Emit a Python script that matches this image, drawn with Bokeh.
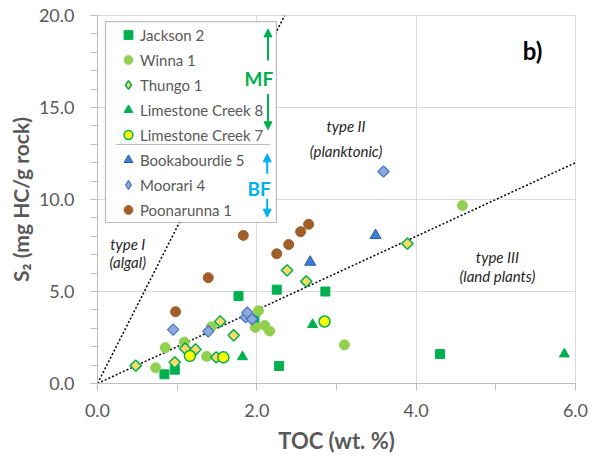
from bokeh.plotting import figure
from bokeh.models import (Range1d, SingleIntervalTicker, PrintfTickFormatter, Legend, LegendItem,
                          BoxAnnotation, Arrow, NormalHead, Label, Title)
from bokeh.embed import file_html
from bokeh.resources import INLINE

# ---------------- data ----------------
jackson_x = [0.84, 0.97, 1.77, 1.97, 2.25, 2.28, 2.86, 4.30]
jackson_y = [0.50, 0.75, 4.75, 3.50, 5.10, 0.95, 5.00, 1.60]

winna_x = [0.73, 0.85, 1.09, 1.37, 1.43, 1.98, 2.02, 2.10, 2.16, 3.10, 4.58]
winna_y = [0.85, 1.95, 2.25, 1.47, 3.08, 3.05, 3.95, 3.15, 2.85, 2.10, 9.67]

thungo_x = [0.48, 0.97, 1.10, 1.23, 1.49, 1.54, 1.71, 2.38, 2.62, 3.89]
thungo_y = [0.97, 1.15, 1.90, 1.85, 1.42, 3.37, 2.62, 6.15, 5.55, 7.60]

lc8_x = [1.82, 2.70, 5.86]
lc8_y = [1.45, 3.20, 1.60]

lc7_x = [1.16, 1.58, 2.85]
lc7_y = [1.50, 1.42, 3.37]

book_x = [2.67, 3.49]
book_y = [6.60, 8.05]

moorari_x = [0.95, 1.39, 1.86, 1.88, 1.94, 3.59]
moorari_y = [2.93, 2.83, 3.60, 3.85, 3.50, 11.52]

poon_x = [0.98, 1.39, 1.83, 2.25, 2.40, 2.55, 2.65]
poon_y = [3.90, 5.75, 8.05, 7.05, 7.55, 8.25, 8.65]

# kerogen type boundary lines (HI ~ 850 and 200)
type1_x = [0.0, 2.35]
type1_y = [0.0, 20.0]
type3_x = [0.0, 6.0]
type3_y = [0.0, 12.0]

x_ticks_interval = 2
y_ticks_interval = 5

FONT = "Lato"
GRAY = "#595959"

p = figure(frame_width=478, frame_height=368,
           x_range=Range1d(0, 6), y_range=Range1d(0, 20),
           output_backend="svg", toolbar_location=None,
           min_border_left=97, min_border_right=19, min_border_top=15, min_border_bottom=80)
p.background_fill_color = "white"
p.border_fill_color = "white"
p.outline_line_color = "#d9d9d9"

# axes
p.xaxis.ticker = SingleIntervalTicker(interval=x_ticks_interval, num_minor_ticks=2)
p.yaxis.ticker = SingleIntervalTicker(interval=y_ticks_interval, num_minor_ticks=5)
for ax in (p.xaxis[0], p.yaxis[0]):
    ax.formatter = PrintfTickFormatter(format="%.1f")
    ax.axis_line_color = "#bfbfbf"
    ax.major_tick_line_color = "#bfbfbf"
    ax.minor_tick_line_color = "#bfbfbf"
    ax.major_tick_in = 0
    ax.minor_tick_in = 0
    ax.major_tick_out = 7
    ax.minor_tick_out = 7
    ax.major_label_text_font = FONT
    ax.major_label_text_font_size = "18px"
    ax.major_label_text_color = GRAY
p.xaxis.major_label_standoff = 13
p.yaxis.major_label_standoff = 16
p.xaxis.axis_label = "TOC (wt. %)"
p.xaxis.axis_label_text_font = FONT
p.xaxis.axis_label_text_font_size = "22px"
p.xaxis.axis_label_text_font_style = "bold"
p.xaxis.axis_label_text_color = GRAY
p.xaxis.axis_label_standoff = 7

ytitle = Title(text="S\u2082 (mg HC/g rock)", align="center", offset=26,
               text_font=FONT, text_font_size="21px", text_font_style="bold",
               text_color=GRAY, standoff=6)
p.add_layout(ytitle, "left")

p.xgrid.grid_line_color = "#d9d9d9"
p.ygrid.grid_line_color = "#d9d9d9"

# boundary lines
p.line(type1_x, type1_y, line_color="black", line_width=1.5, line_dash="2 2")
p.line(type3_x, type3_y, line_color="black", line_width=1.5, line_dash="2 2")

# legend swatch proxies (diamond shape), drawn underneath the real diamond markers
r3_leg = p.scatter(thungo_x, thungo_y, marker="diamond", size=8, fill_color="#ffd966",
                   line_color="#00b050", line_width=1.5)
r7_leg = p.scatter(moorari_x, moorari_y, marker="diamond", size=8, fill_color="#8eaadb",
                   line_color="#4472c4", line_width=1.2)

# series
r1 = p.scatter(jackson_x, jackson_y, marker="square", size=9, fill_color="#00b050", line_color="#00b050")
r2 = p.scatter(winna_x, winna_y, marker="circle", size=10, fill_color="#92d050", line_color="#92d050")
r3 = p.scatter(thungo_x, thungo_y, marker="square", angle=0.785398, size=8,
               fill_color="#ffd966", line_color="#00b050", line_width=1.5)
r4 = p.scatter(lc8_x, lc8_y, marker="triangle", size=10, fill_color="#00b050", line_color="#00b050")
r5 = p.scatter(lc7_x, lc7_y, marker="circle", size=11, fill_color="#ffff00", line_color="#00b050", line_width=1.5)
r6 = p.scatter(book_x, book_y, marker="triangle", size=11, fill_color="#3b82d6", line_color="#2f5597")
r7 = p.scatter(moorari_x, moorari_y, marker="square", angle=0.785398, size=8,
               fill_color="#8eaadb", line_color="#4472c4", line_width=1.2)
r8 = p.scatter(poon_x, poon_y, marker="circle", size=10, fill_color="#9e5f2b", line_color="#9e5f2b")

# legend frame
box = BoxAnnotation(left=0.1, right=2.246, top=19.67, bottom=8.75,
                    fill_color="white", fill_alpha=1.0, line_color="#262626", line_width=1.2,
                    level="annotation")
p.add_layout(box)
divider = Arrow(end=None, x_start=0.226, y_start=12.99, x_end=2.17, y_end=12.99,
                line_color="#bfbfbf", line_width=1.2)
p.add_layout(divider)

legend = Legend(items=[
    LegendItem(label="Jackson 2", renderers=[r1]),
    LegendItem(label="Winna 1", renderers=[r2]),
    LegendItem(label="Thungo 1", renderers=[r3_leg]),
    LegendItem(label="Limestone Creek 8", renderers=[r4]),
    LegendItem(label="Limestone Creek 7", renderers=[r5]),
    LegendItem(label="Bookabourdie 5", renderers=[r6]),
    LegendItem(label="Moorari 4", renderers=[r7_leg]),
    LegendItem(label="Poonarunna 1", renderers=[r8]),
], location=(20, 161), glyph_width=22, glyph_height=25, label_height=25, spacing=0,
    padding=0, margin=0, label_standoff=1, border_line_color=None, background_fill_alpha=0,
    label_text_font=FONT, label_text_font_size="15px", label_text_color=GRAY)
p.add_layout(legend)

GREEN = "#00b050"
BLUE = "#00b0f0"
for (ys, ye, col) in [(17.55, 19.27, GREEN), (15.74, 13.79, GREEN), (11.40, 12.48, BLUE), (10.04, 9.04, BLUE)]:
    xx = 2.14 if col == GREEN else 2.13
    p.add_layout(Arrow(x_start=xx, y_start=ys, x_end=xx, y_end=ye, line_color=col, line_width=2,
                       end=NormalHead(size=8, fill_color=col, line_color=col)))

p.add_layout(Label(x=2.026, y=16.55, text="MF", text_align="center", text_baseline="middle",
                   text_font=FONT, text_font_size="19px", text_font_style="bold", text_color=GREEN))
p.add_layout(Label(x=2.03, y=10.62, text="BF", text_align="center", text_baseline="middle",
                   text_font=FONT, text_font_size="19px", text_font_style="bold", text_color=BLUE))

# kerogen type labels
for (tx, ty, tt) in [(3.12, 14.0, "type II"), (3.12, 12.66, "(planktonic)"),
                     (0.38, 7.6, "type I"), (0.38, 6.6, "(algal)"),
                     (5.02, 6.9, "type III"), (5.02, 5.82, "(land plants)")]:
    p.add_layout(Label(x=tx, y=ty, text=tt, text_align="center", text_baseline="middle",
                       text_font=FONT, text_font_size="15px", text_font_style="italic",
                       text_color="#262626"))

p.add_layout(Label(x=5.46, y=18.1, text="b)", text_align="center", text_baseline="middle",
                   text_font=FONT, text_font_size="24px", text_font_style="bold", text_color="black"))

open("out.html", "w").write(file_html(p, INLINE))
